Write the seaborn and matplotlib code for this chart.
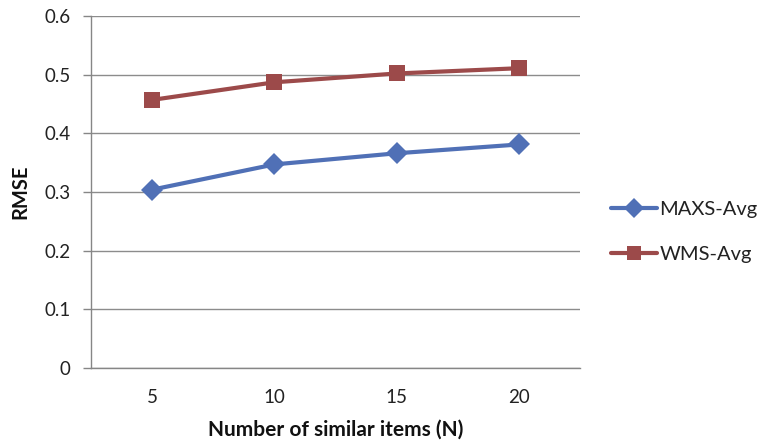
import matplotlib
matplotlib.use("Agg")
import matplotlib.pyplot as plt
import seaborn as sns
import pandas as pd
from matplotlib.ticker import FixedLocator

categories = ["5", "10", "15", "20"]
maxs_avg = [0.304, 0.347, 0.366, 0.381]
wms_avg = [0.457, 0.487, 0.502, 0.511]
series_names = ["MAXS-Avg", "WMS-Avg"]
y_ticks = [0, 0.1, 0.2, 0.3, 0.4, 0.5, 0.6]
y_tick_labels = ["0", "0.1", "0.2", "0.3", "0.4", "0.5", "0.6"]

df = pd.DataFrame({
    "N": categories * 2,
    "RMSE": maxs_avg + wms_avg,
    "series": [series_names[0]] * 4 + [series_names[1]] * 4,
})

sns.set_theme(style="white")
plt.rcParams["font.family"] = ["Lato", "DejaVu Sans"]

fig = plt.figure(figsize=(7.59, 4.47), dpi=100)
ax = fig.add_axes([91 / 759, 1 - 368 / 447, (580 - 91) / 759, (368 - 16) / 447])

palette = {"MAXS-Avg": "#5070B6", "WMS-Avg": "#9C4A4A"}
markers = {"MAXS-Avg": "D", "WMS-Avg": "s"}
sns.lineplot(data=df, x="N", y="RMSE", hue="series", style="series",
             palette=palette, markers=markers, dashes=False, linewidth=3,
             markersize=11.5, markeredgewidth=0, ax=ax, sort=False)

ax.set_xlim(-0.5, 3.5)
ax.set_ylim(0, 0.6)
ax.set_yticks(y_ticks)
ax.set_yticklabels(y_tick_labels)
ax.set_xticks(range(len(categories)))
ax.set_xticklabels(categories)
ax.xaxis.set_minor_locator(FixedLocator([-0.5, 0.5, 1.5, 2.5, 3.5]))
ax.tick_params(axis="x", which="major", length=0, pad=15, labelsize=13.5, colors="#222222")
ax.tick_params(axis="x", which="minor", length=6, width=1, color="#868686", direction="out")
ax.tick_params(axis="y", which="major", length=6, width=1, color="#868686", direction="out",
               pad=8.5, labelsize=13.5, labelcolor="#222222", left=True)

ax.grid(axis="y", color="#8C8C8C", linewidth=1)
ax.set_axisbelow(True)
for s in ["top", "right"]:
    ax.spines[s].set_visible(False)
for s in ["left", "bottom"]:
    ax.spines[s].set_color("#868686")
    ax.spines[s].set_linewidth(1)

ax.set_ylabel("RMSE", fontsize=14.5, fontweight="bold", labelpad=10, color="#111111")
ax.set_xlabel("Number of similar items (N)", fontsize=15, fontweight="bold", labelpad=10, color="#111111")

leg = ax.legend(loc="center left", bbox_to_anchor=(611 / 759, 1 - 232 / 447),
                bbox_transform=fig.transFigure, frameon=False, fontsize=14.5,
                handlelength=2.3, handletextpad=0.1, labelspacing=1.4,
                borderpad=0, borderaxespad=0, markerscale=0.85)
for t in leg.get_texts():
    t.set_color("#222222")

fig.savefig("out.png", dpi=100)
